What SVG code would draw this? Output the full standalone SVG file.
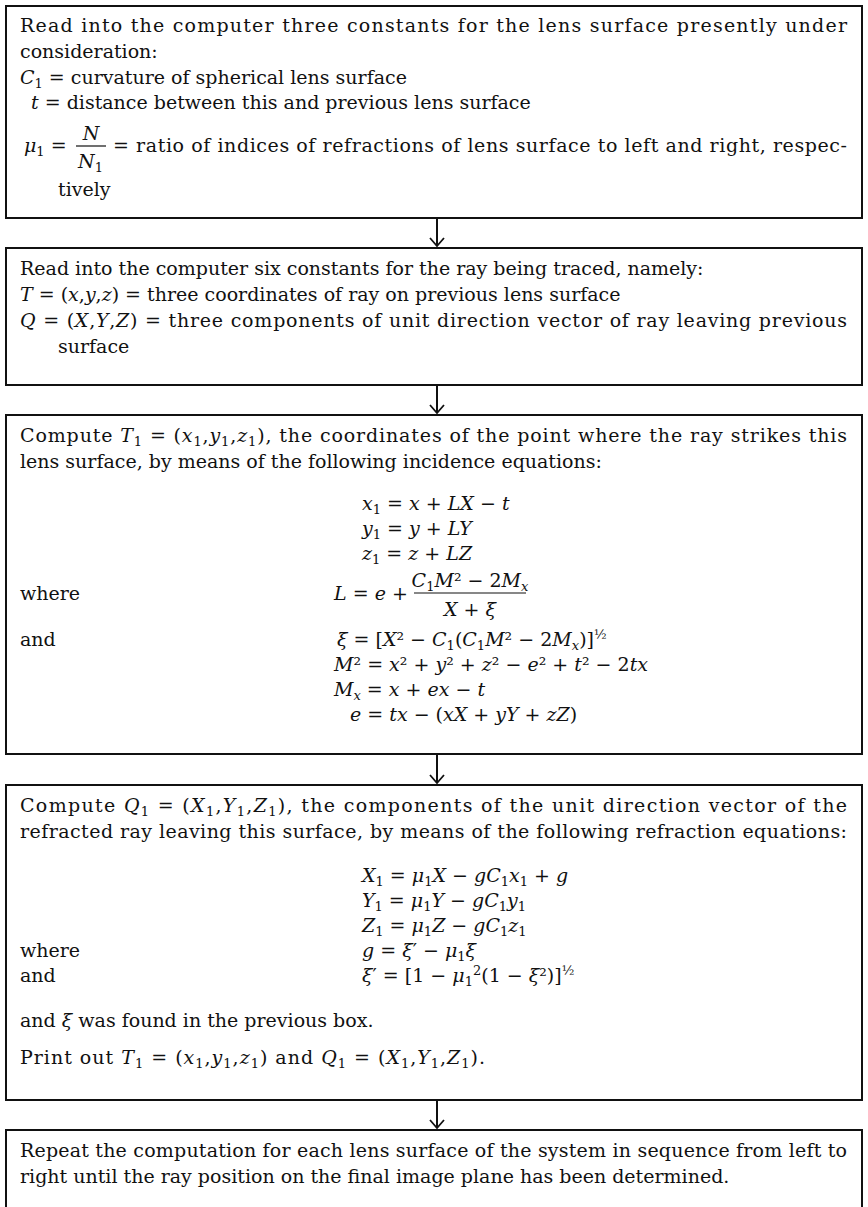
<svg xmlns="http://www.w3.org/2000/svg" width="868" height="1207" viewBox="0 0 868 1207">
  <style>
    .box { fill: #ffffff; stroke: #111111; stroke-width: 2; }
    .t { font-family: "DejaVu Serif", "Liberation Serif", serif; font-size: 19px; fill: #111111; }
    .i { font-style: italic; }
    .sb { font-size: 13px; font-style: normal; }
    .si { font-size: 13px; font-style: italic; }
    .bar { stroke: #111111; stroke-width: 1.2; }
    .conn { fill: none; stroke: #111111; stroke-width: 2; }
  </style>
  <defs>
    <marker id="ah" viewBox="-10 -8 11 16" refX="0" refY="0" markerWidth="11" markerHeight="16" orient="auto" markerUnits="userSpaceOnUse">
      <path d="M-8,-7 L0,0 L-8,7" fill="none" stroke="#111111" stroke-width="1.8"/>
    </marker>
  </defs>
  <rect width="868" height="1207" fill="#ffffff"/>

  <!-- surface constants -->
  <g id="box-surface-constants">
    <rect class="box" x="6" y="6" width="856" height="212"/>
    <text class="t" x="20" y="32" textLength="827">Read into the computer three constants for the lens surface presently under</text>
    <text class="t" x="20" y="58">consideration:</text>
    <text class="t" x="20" y="84"><tspan class="i">C</tspan><tspan class="sb" dy="4">1</tspan><tspan dy="-4"> = curvature of spherical lens surface</tspan></text>
    <text class="t" x="31" y="109"><tspan class="i">t</tspan> = distance between this and previous lens surface</text>
    <text class="t" x="24" y="152"><tspan class="i">μ</tspan><tspan class="sb" dy="4">1</tspan><tspan dy="-4"> =</tspan></text>
    <text class="t i" x="91" y="140" text-anchor="middle">N</text>
    <line class="bar" x1="76" y1="146" x2="106" y2="146"/>
    <text class="t" x="78" y="168"><tspan class="i">N</tspan><tspan class="sb" dy="4">1</tspan></text>
    <text class="t" x="113" y="152" textLength="734">= ratio of indices of refractions of lens surface to left and right, respec-</text>
    <text class="t" x="58" y="196">tively</text>
  </g>

  <!-- ray constants -->
  <g id="box-ray-constants">
    <rect class="box" x="6" y="248" width="856" height="137"/>
    <text class="t" x="20" y="275">Read into the computer six constants for the ray being traced, namely:</text>
    <text class="t" x="20" y="301"><tspan class="i">T</tspan> = (<tspan class="i">x</tspan>,<tspan class="i">y</tspan>,<tspan class="i">z</tspan>) = three coordinates of ray on previous lens surface</text>
    <text class="t" x="20" y="327" textLength="827"><tspan class="i">Q</tspan> = (<tspan class="i">X</tspan>,<tspan class="i">Y</tspan>,<tspan class="i">Z</tspan>) = three components of unit direction vector of ray leaving previous</text>
    <text class="t" x="58" y="353">surface</text>
  </g>

  <!-- incidence equations -->
  <g id="box-incidence">
    <rect class="box" x="6" y="415" width="856" height="339"/>
    <text class="t" x="20" y="442" textLength="827">Compute <tspan class="i">T</tspan><tspan class="sb" dy="4">1</tspan><tspan dy="-4"> = (</tspan><tspan class="i">x</tspan><tspan class="sb" dy="4">1</tspan><tspan dy="-4">,</tspan><tspan class="i">y</tspan><tspan class="sb" dy="4">1</tspan><tspan dy="-4">,</tspan><tspan class="i">z</tspan><tspan class="sb" dy="4">1</tspan><tspan dy="-4">), the coordinates of the point where the ray strikes this</tspan></text>
    <text class="t" x="20" y="468">lens surface, by means of the following incidence equations:</text>

    <text class="t" x="362" y="510"><tspan class="i">x</tspan><tspan class="sb" dy="4">1</tspan><tspan dy="-4"> = </tspan><tspan class="i">x</tspan> + <tspan class="i">LX</tspan> − <tspan class="i">t</tspan></text>
    <text class="t" x="362" y="535"><tspan class="i">y</tspan><tspan class="sb" dy="4">1</tspan><tspan dy="-4"> = </tspan><tspan class="i">y</tspan> + <tspan class="i">LY</tspan></text>
    <text class="t" x="362" y="560"><tspan class="i">z</tspan><tspan class="sb" dy="4">1</tspan><tspan dy="-4"> = </tspan><tspan class="i">z</tspan> + <tspan class="i">LZ</tspan></text>

    <text class="t" x="20" y="600">where</text>
    <text class="t" x="334" y="600"><tspan class="i">L</tspan> = <tspan class="i">e</tspan> +</text>
    <text class="t" x="470" y="587" text-anchor="middle"><tspan class="i">C</tspan><tspan class="sb" dy="4">1</tspan><tspan class="i" dy="-4">M</tspan>² − 2<tspan class="i">M</tspan><tspan class="si" dy="4">x</tspan></text>
    <line class="bar" x1="414" y1="593" x2="526" y2="593"/>
    <text class="t" x="470" y="616" text-anchor="middle"><tspan class="i">X</tspan> + <tspan class="i">ξ</tspan></text>

    <text class="t" x="20" y="646">and</text>
    <text class="t" x="337" y="646"><tspan class="i">ξ</tspan> = [<tspan class="i">X</tspan>² − <tspan class="i">C</tspan><tspan class="sb" dy="4">1</tspan><tspan dy="-4">(</tspan><tspan class="i">C</tspan><tspan class="sb" dy="4">1</tspan><tspan class="i" dy="-4">M</tspan>² − 2<tspan class="i">M</tspan><tspan class="si" dy="4">x</tspan><tspan dy="-4">)]</tspan><tspan class="sb" dy="-7">½</tspan></text>
    <text class="t" x="334" y="671"><tspan class="i">M</tspan>² = <tspan class="i">x</tspan>² + <tspan class="i">y</tspan>² + <tspan class="i">z</tspan>² − <tspan class="i">e</tspan>² + <tspan class="i">t</tspan>² − 2<tspan class="i">tx</tspan></text>
    <text class="t" x="334" y="696"><tspan class="i">M</tspan><tspan class="si" dy="4">x</tspan><tspan dy="-4"> = </tspan><tspan class="i">x</tspan> + <tspan class="i">ex</tspan> − <tspan class="i">t</tspan></text>
    <text class="t" x="350" y="721"><tspan class="i">e</tspan> = <tspan class="i">tx</tspan> − (<tspan class="i">xX</tspan> + <tspan class="i">yY</tspan> + <tspan class="i">zZ</tspan>)</text>
  </g>

  <!-- refraction equations -->
  <g id="box-refraction">
    <rect class="box" x="6" y="785" width="856" height="315"/>
    <text class="t" x="20" y="812" textLength="827">Compute <tspan class="i">Q</tspan><tspan class="sb" dy="4">1</tspan><tspan dy="-4"> = (</tspan><tspan class="i">X</tspan><tspan class="sb" dy="4">1</tspan><tspan dy="-4">,</tspan><tspan class="i">Y</tspan><tspan class="sb" dy="4">1</tspan><tspan dy="-4">,</tspan><tspan class="i">Z</tspan><tspan class="sb" dy="4">1</tspan><tspan dy="-4">), the components of the unit direction vector of the</tspan></text>
    <text class="t" x="20" y="838" textLength="827">refracted ray leaving this surface, by means of the following refraction equations:</text>

    <text class="t" x="362" y="882"><tspan class="i">X</tspan><tspan class="sb" dy="4">1</tspan><tspan dy="-4"> = </tspan><tspan class="i">μ</tspan><tspan class="sb" dy="4">1</tspan><tspan class="i" dy="-4">X</tspan> − <tspan class="i">gC</tspan><tspan class="sb" dy="4">1</tspan><tspan class="i" dy="-4">x</tspan><tspan class="sb" dy="4">1</tspan><tspan dy="-4"> + </tspan><tspan class="i">g</tspan></text>
    <text class="t" x="362" y="907"><tspan class="i">Y</tspan><tspan class="sb" dy="4">1</tspan><tspan dy="-4"> = </tspan><tspan class="i">μ</tspan><tspan class="sb" dy="4">1</tspan><tspan class="i" dy="-4">Y</tspan> − <tspan class="i">gC</tspan><tspan class="sb" dy="4">1</tspan><tspan class="i" dy="-4">y</tspan><tspan class="sb" dy="4">1</tspan></text>
    <text class="t" x="362" y="932"><tspan class="i">Z</tspan><tspan class="sb" dy="4">1</tspan><tspan dy="-4"> = </tspan><tspan class="i">μ</tspan><tspan class="sb" dy="4">1</tspan><tspan class="i" dy="-4">Z</tspan> − <tspan class="i">gC</tspan><tspan class="sb" dy="4">1</tspan><tspan class="i" dy="-4">z</tspan><tspan class="sb" dy="4">1</tspan></text>
    <text class="t" x="20" y="957">where</text>
    <text class="t" x="362" y="957"><tspan class="i">g</tspan> = <tspan class="i">ξ</tspan>′ − <tspan class="i">μ</tspan><tspan class="sb" dy="4">1</tspan><tspan class="i" dy="-4">ξ</tspan></text>
    <text class="t" x="20" y="982">and</text>
    <text class="t" x="362" y="982"><tspan class="i">ξ</tspan>′ = [1 − <tspan class="i">μ</tspan><tspan class="sb" dy="4">1</tspan><tspan class="sb" dy="-11">2</tspan><tspan dy="7">(1 − </tspan><tspan class="i">ξ</tspan>²)]<tspan class="sb" dy="-7">½</tspan></text>

    <text class="t" x="20" y="1027">and <tspan class="i">ξ</tspan> was found in the previous box.</text>
    <text class="t" x="20" y="1064" textLength="465">Print out <tspan class="i">T</tspan><tspan class="sb" dy="4">1</tspan><tspan dy="-4"> = (</tspan><tspan class="i">x</tspan><tspan class="sb" dy="4">1</tspan><tspan dy="-4">,</tspan><tspan class="i">y</tspan><tspan class="sb" dy="4">1</tspan><tspan dy="-4">,</tspan><tspan class="i">z</tspan><tspan class="sb" dy="4">1</tspan><tspan dy="-4">) and </tspan><tspan class="i">Q</tspan><tspan class="sb" dy="4">1</tspan><tspan dy="-4"> = (</tspan><tspan class="i">X</tspan><tspan class="sb" dy="4">1</tspan><tspan dy="-4">,</tspan><tspan class="i">Y</tspan><tspan class="sb" dy="4">1</tspan><tspan dy="-4">,</tspan><tspan class="i">Z</tspan><tspan class="sb" dy="4">1</tspan><tspan dy="-4">).</tspan></text>
  </g>

  <!-- repeat for next surface -->
  <g id="box-repeat">
    <rect class="box" x="6" y="1130" width="856" height="100"/>
    <text class="t" x="20" y="1157" textLength="827">Repeat the computation for each lens surface of the system in sequence from left to</text>
    <text class="t" x="20" y="1183">right until the ray position on the final image plane has been determined.</text>
  </g>

  <g id="connectors">
    <path class="conn" d="M437,218 V246" marker-end="url(#ah)"/>
    <path class="conn" d="M437,385 V413" marker-end="url(#ah)"/>
    <path class="conn" d="M437,754 V783" marker-end="url(#ah)"/>
    <path class="conn" d="M437,1100 V1128" marker-end="url(#ah)"/>
  </g>
</svg>
